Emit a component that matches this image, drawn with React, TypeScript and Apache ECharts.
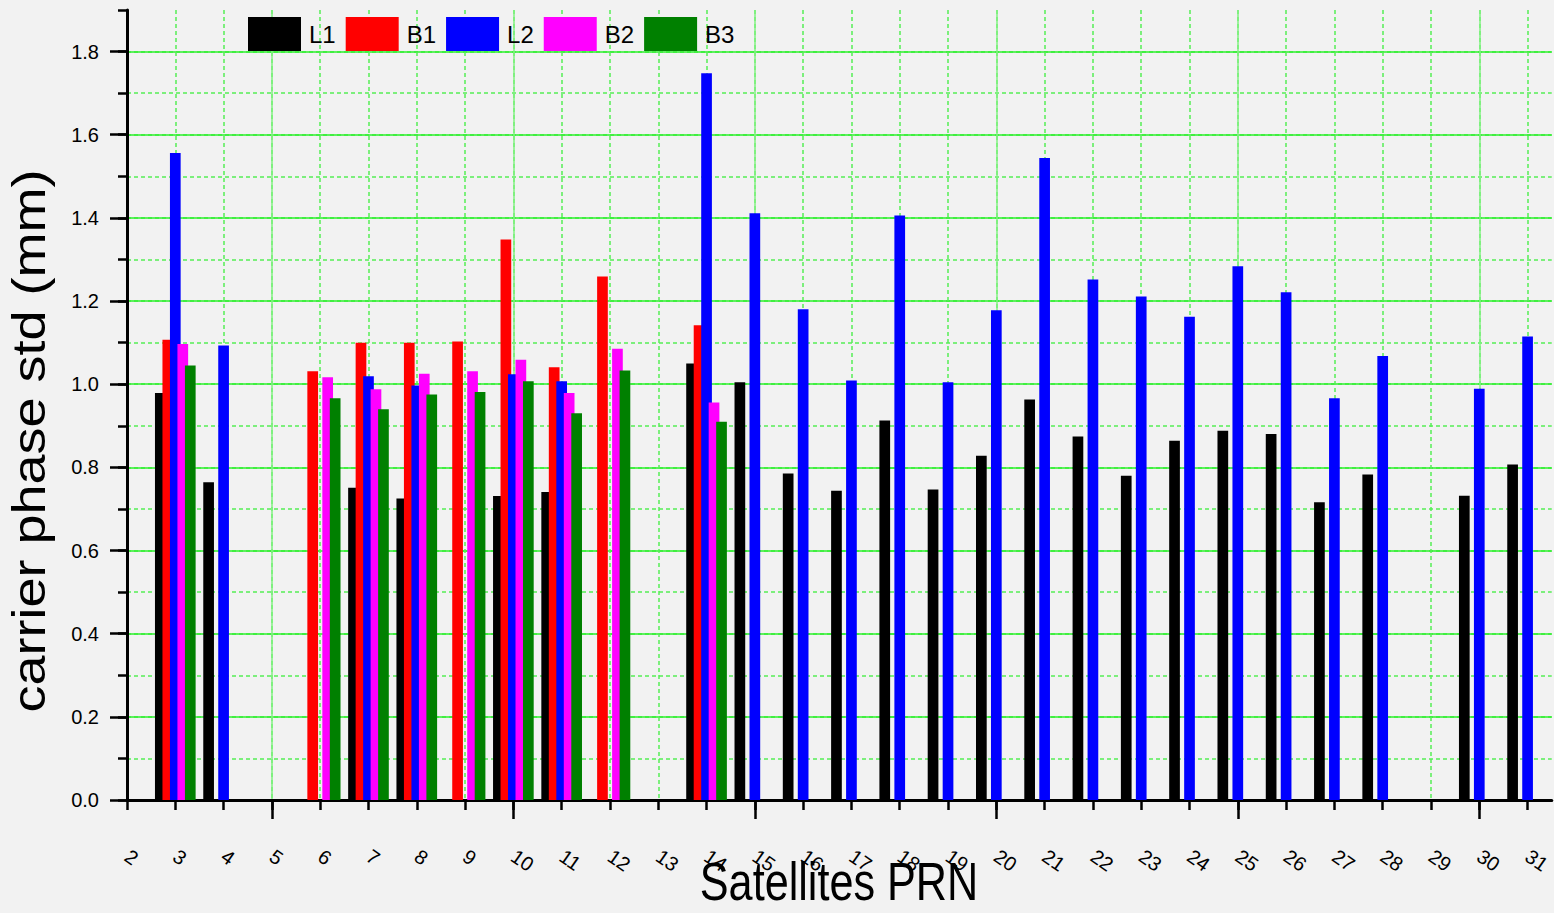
import React, { useEffect, useRef } from 'react';
import * as echarts from 'echarts';

// Satellite PRN numbers (x positions)
const PRN = [2, 3, 4, 5, 6, 7, 8, 9, 10, 11, 12, 13, 14, 15, 16, 17, 18, 19, 20, 21, 22, 23, 24, 25, 26, 27, 28, 29, 30, 31];

// carrier phase std (mm), aligned with PRN (null = no bar)
const L1 = [null, 0.979, 0.764, null, null, 0.751, 0.725, null, 0.731, 0.741, null, null, 1.050, 1.005, 0.785, 0.744, 0.913, 0.747, 0.828, 0.963, 0.874, 0.780, 0.864, 0.888, 0.880, 0.716, 0.783, null, 0.732, 0.807];
const B1 = [null, 1.107, null, null, 1.031, 1.100, 1.100, 1.103, 1.348, 1.041, 1.259, null, 1.142, null, null, null, null, null, null, null, null, null, null, null, null, null, null, null, null, null];
const L2 = [null, 1.556, 1.093, null, null, 1.019, 0.997, null, 1.024, 1.007, null, null, 1.748, 1.411, 1.180, 1.009, 1.406, 1.005, 1.178, 1.544, 1.252, 1.211, 1.162, 1.284, 1.221, 0.966, 1.068, null, 0.989, 1.115];
const B2 = [null, 1.097, null, null, 1.017, 0.988, 1.025, 1.031, 1.059, 0.979, 1.085, null, 0.956, null, null, null, null, null, null, null, null, null, null, null, null, null, null, null, null, null];
const B3 = [null, 1.045, null, null, 0.966, 0.940, 0.975, 0.981, 1.007, 0.930, 1.033, null, 0.910, null, null, null, null, null, null, null, null, null, null, null, null, null, null, null, null, null];

const SERIES_NAMES = ['L1', 'B1', 'L2', 'B2', 'B3'];
const SERIES_VALUES = [L1, B1, L2, B2, B3];
const SERIES_COLORS = ['#000000', '#ff0000', '#0000ff', '#ff00ff', '#008000'];

const X_MAJOR = [5, 10, 15, 20, 25, 30];
const Y_MAJOR = [0, 0.2, 0.4, 0.6, 0.8, 1.0, 1.2, 1.4, 1.6, 1.8];
const Y_MINOR = [0, 0.1, 0.2, 0.3, 0.4, 0.5, 0.6, 0.7, 0.8, 0.9, 1.0, 1.1, 1.2, 1.3, 1.4, 1.5, 1.6, 1.7, 1.8, 1.9];

const X_TITLE = 'Satellites PRN';
const Y_TITLE = 'carrier phase std (mm)';

export default function App() {
  const ref = useRef<HTMLDivElement>(null);

  useEffect(() => {
    document.body.style.margin = '0';
    const chart = echarts.init(ref.current as HTMLDivElement, null, { renderer: 'svg' });
    const font = "'Liberation Sans', Arial, sans-serif";
    const toPairs = (vals: (number | null)[]) =>
      PRN.map((p, i) => [p, vals[i]]).filter((d) => d[1] !== null);

    const solidGreen = '#2cef2c';
    const dashGreen = '#55ee55';
    const vertSolid = '#80f080';

    chart.setOption({
      animation: false,
      backgroundColor: '#f2f2f2',
      grid: { left: 127, right: 2, top: 10, bottom: 113, containLabel: false },
      legend: {
        data: SERIES_NAMES,
        left: 248,
        top: 17,
        padding: 0,
        itemWidth: 53,
        itemHeight: 34,
        itemGap: 10,
        icon: 'rect',
        textStyle: { fontSize: 24, color: '#000', fontFamily: font, padding: [0, 0, 0, 3] },
      },
      xAxis: [
        {
          type: 'value',
          min: 2,
          max: 31.5,
          interval: 1,
          position: 'bottom',
          axisLine: { show: true, lineStyle: { color: '#000', width: 3 } },
          axisTick: { show: true, customValues: PRN, length: 10, lineStyle: { color: '#000', width: 2.5 } },
          axisLabel: {
            show: true,
            customValues: PRN,
            rotate: -35,
            margin: 54,
            fontSize: 20,
            color: '#000',
            fontFamily: font,
            formatter: (v: number) => String(v),
          },
          splitLine: { show: true, showMinLine: false, lineStyle: { color: dashGreen, width: 1.5, type: [4, 3] } },
        },
        {
          type: 'value',
          min: 2,
          max: 31.5,
          interval: 1,
          position: 'bottom',
          axisLine: { show: false },
          axisTick: { show: true, customValues: X_MAJOR, length: 19, lineStyle: { color: '#000', width: 2.5 } },
          axisLabel: { show: false },
          splitLine: { show: true, lineStyle: { color: vertSolid, width: 1.5, type: 'solid' } },
        },
      ],
      yAxis: [
        {
          type: 'value',
          min: 0,
          max: 1.9,
          interval: 0.1,
          position: 'left',
          axisLine: { show: true, lineStyle: { color: '#000', width: 3 } },
          axisTick: { show: true, customValues: Y_MINOR, length: 9, lineStyle: { color: '#000', width: 2.5 } },
          axisLabel: { show: false },
          splitLine: { show: true, showMinLine: false, showMaxLine: false, lineStyle: { color: dashGreen, width: 1.5, type: [4, 3] } },
        },
        {
          type: 'value',
          min: 0,
          max: 1.9,
          interval: 0.2,
          position: 'left',
          axisLine: { show: false },
          axisTick: { show: true, customValues: Y_MAJOR, length: 17, lineStyle: { color: '#000', width: 2.5 } },
          axisLabel: {
            show: true,
            customValues: Y_MAJOR,
            margin: 28,
            fontSize: 20,
            color: '#000',
            fontFamily: font,
            formatter: (v: number) => v.toFixed(1),
          },
          splitLine: { show: true, showMinLine: false, lineStyle: { color: solidGreen, width: 1.5, type: 'solid' } },
        },
      ],
      series: SERIES_NAMES.map((name, i) => ({
        name,
        type: 'bar',
        xAxisIndex: 0,
        yAxisIndex: 0,
        barWidth: 10.7,
        barGap: '-30%',
        itemStyle: { color: SERIES_COLORS[i] },
        data: toPairs(SERIES_VALUES[i]),
      })),
      graphic: [
        {
          type: 'text',
          x: 839,
          y: 881,
          scaleX: 0.8,
          style: { text: X_TITLE, fontSize: 54, fontFamily: font, fill: '#000', align: 'center', verticalAlign: 'middle' },
        },
        {
          type: 'text',
          x: 29,
          y: 441,
          rotation: Math.PI / 2,
          scaleY: 0.87,
          style: { text: Y_TITLE, fontSize: 54, fontFamily: font, fill: '#000', align: 'center', verticalAlign: 'middle' },
        },
      ],
    });

    return () => chart.dispose();
  }, []);

  return (
    <div
      ref={ref}
      style={{ position: 'absolute', left: 0, top: 0, width: 1554, height: 913 }}
    />
  );
}
